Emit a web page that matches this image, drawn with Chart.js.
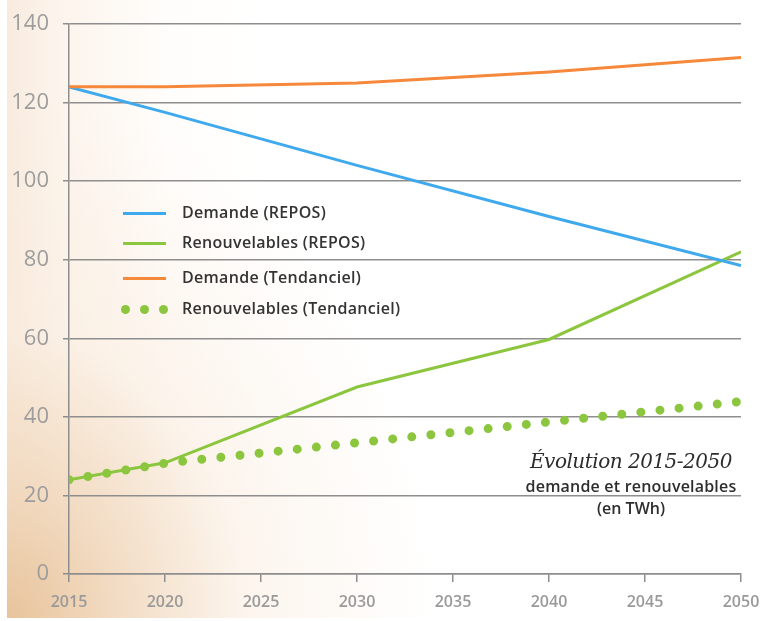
<!DOCTYPE html>
<html>
<head>
<meta charset="utf-8">
<script src="https://cdn.jsdelivr.net/npm/chart.js@4"></script>
<style>
  html, body { margin:0; padding:0; }
  body { width:764px; height:621px; overflow:hidden; background:#fff; }
  .wrap { position:relative; width:764px; height:621px; background:#fff; }
  .bg {
    position:absolute; left:7px; top:0; width:757px; height:618px;
    background:
      radial-gradient(ellipse 430px 520px at 0% 100%, rgba(232,196,156,1) 0%, rgba(240,214,186,0.85) 25%, rgba(249,235,220,0.5) 55%, rgba(255,255,255,0) 100%),
      linear-gradient(to right, #f8ebde 0px, #fcf4ec 50px, #fffdfb 160px, #fff 260px);
  }
  canvas { position:absolute; left:0; top:0; }
  .legend { position:absolute; left:0; top:0; font-family:"Open Sans", sans-serif; font-weight:600; font-size:16px; letter-spacing:0.3px; color:#333; }
  .legend .item { position:absolute; left:182px; white-space:nowrap; line-height:20px; }
  .legend .sw { position:absolute; height:3px; width:43px; left:123px; }
  .legend .dot { position:absolute; width:9px; height:9px; border-radius:50%; background:#8cc63f; }
  .note { position:absolute; left:520px; width:222px; text-align:center; color:#2d2d2d; font-family:"Open Sans", sans-serif; }
  .note .t1 { position:absolute; left:0; width:100%; top:449px; font-family:"DejaVu Serif", serif; font-style:italic; font-size:20px; letter-spacing:-0.5px; }
  .note .t2 { position:absolute; left:-10px; width:242px; top:475px; font-weight:600; font-size:16px; letter-spacing:0.2px; }
  .note .t3 { position:absolute; left:0; width:100%; top:497px; font-weight:600; font-size:16px; }
</style>
</head>
<body>
<div class="wrap">
  <div class="bg"></div>
  <canvas id="c" width="764" height="621"></canvas>
  <div class="legend" id="legend"></div>
  <div class="note">
    <div class="t1">Évolution 2015-2050</div>
    <div class="t2">demande et renouvelables</div>
    <div class="t3">(en TWh)</div>
  </div>
</div>
<script>
const years = [2015, 2020, 2030, 2040, 2050];
const demandeRepos = [124, 117.5, 104, 91, 78.5];
const renouvRepos = [24, 28.3, 47.6, 59.7, 82];
const demandeTend = [124, 124, 125, 127.8, 131.5];
const renouvTend = [24, 28.2, 33.4, 38.7, 43.9];
const labels = ["Demande (REPOS)", "Renouvelables (REPOS)", "Demande (Tendanciel)", "Renouvelables (Tendanciel)"];
const colors = ["#3fa9ee", "#8cc63f", "#f5883a", "#8cc63f"];

const pts = arr => arr.map((v, i) => ({ x: years[i], y: v }));
const grey = "#8e8e8e";

// ---------- legend ----------
const legY = [213, 243, 278, 309];
document.getElementById("legend").innerHTML = labels.map((l, i) => {
  const sample = i === 3
    ? [125, 144, 163].map(x => `<div class="dot" style="left:${x - 4.5}px;top:${legY[i] - 4.5}px"></div>`).join("")
    : `<div class="sw" style="top:${legY[i] - 1.5}px;background:${colors[i]}"></div>`;
  return sample + `<div class="item" style="top:${legY[i] - 11}px">${l}</div>`;
}).join("");

// ---------- chart ----------
new Chart(document.getElementById("c"), {
  type: "line",
  data: {
    datasets: [
      { label: labels[3], data: pts(renouvTend), borderColor: colors[3], borderWidth: 9,
        borderDash: [0, 19.2], borderCapStyle: "round", pointRadius: 0, tension: 0 },
      { label: labels[2], data: pts(demandeTend), borderColor: colors[2], borderWidth: 3, pointRadius: 0, tension: 0 },
      { label: labels[0], data: pts(demandeRepos), borderColor: colors[0], borderWidth: 3, pointRadius: 0, tension: 0 },
      { label: labels[1], data: pts(renouvRepos), borderColor: colors[1], borderWidth: 3, pointRadius: 0, tension: 0 }
    ]
  },
  options: {
    responsive: false, animation: false,
    layout: { padding: { top: 24, right: 23, left: 0, bottom: 0 } },
    plugins: { legend: { display: false }, tooltip: { enabled: false } },
    scales: {
      x: {
        type: "linear", min: 2015, max: 2050,
        afterFit: s => { s.height = 47; s.paddingLeft = 0; s.paddingRight = 0; },
        ticks: { stepSize: 5, color: "#9a9a9a", padding: 11, font: { family: "'Open Sans'", size: 16, weight: "600" },
          callback: v => String(v) },
        grid: { drawOnChartArea: false, drawTicks: true, tickLength: 8, color: grey, lineWidth: 1.5 },
        border: { display: true, color: grey, width: 1.5 }
      },
      y: {
        min: 0, max: 140,
        afterFit: s => { s.width = 69; s.paddingTop = 0; s.paddingBottom = 0; },
        ticks: { stepSize: 20, color: "#9d9d9d", padding: 14, font: { family: "'Open Sans'", size: 22 } },
        grid: { color: grey, lineWidth: 1.5, tickLength: 6 },
        border: { display: true, color: grey, width: 1.5 }
      }
    }
  }
});
</script>
</body>
</html>
